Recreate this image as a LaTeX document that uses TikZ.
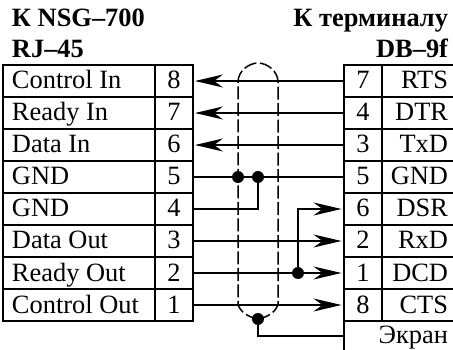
\documentclass[tikz,border=0pt]{standalone}
\usepackage{fontspec}
\setmainfont{Liberation Serif}
\usetikzlibrary{arrows.meta}
\tikzset{
  x=1pt,y=-1pt,
  cell/.style={draw=black,line width=2.2pt,inner sep=0pt,outer sep=0pt,minimum height=32pt},
  namecell/.style={cell,minimum width=152pt},
  pincell/.style={cell,minimum width=38pt},
  txt/.style={font=\fontsize{26.4}{28}\selectfont,inner sep=0pt,outer sep=0pt},
  hdr/.style={font=\fontsize{26.4}{28}\selectfont\bfseries,inner sep=0pt,outer sep=0pt,anchor=base west},
  hdrr/.style={hdr,anchor=base east},
  bord/.style={line width=2.2pt},
  wire/.style={line width=1.5pt},
  arr/.style={wire,-{Stealth[length=28pt,width=13pt,inset=9pt]}},
  arrin/.style={arr,shorten >=2pt},
  arrout/.style={arr,shorten >=2.5pt},
  dot/.style={circle,fill=black,inner sep=0pt,outer sep=0pt,minimum size=12pt},
  shield/.style={line width=1.5pt,dash pattern=on 13pt off 3.5pt},
}
\begin{document}
\begin{tikzpicture}
\useasboundingbox (0,0) rectangle (453,350);
\fill[white] (0,0) rectangle (453,350);
% headers
\node[hdr] (h1) at (12,27) {К NSG–700};
\node[hdr] (h2) at (12,58) {RJ–45};
\node[hdrr] (h3) at (448,27) {К терминалу};
\node[hdrr] (h4) at (448,58) {DB–9f};
% left table
\foreach \n/\p/\t [count=\i from 0] in {Control In/8/l8,Ready In/7/l7,Data In/6/l6,GND/5/l5,GND/4/l4,Data Out/3/l3,Ready Out/2/l2,Control Out/1/l1}{
  \pgfmathsetmacro\yc{81+32*\i}
  \pgfmathsetmacro\yb{89+32*\i}
  \node[namecell] (n\t) at (79,\yc) {};
  \node[pincell] (\t) at (174,\yc) {};
  \node[txt,anchor=base west] (tn\t) at (12,\yb) {\n};
  \node[txt,anchor=base] (tp\t) at (174,\yb) {\p};
}
% right table
\foreach \p/\n/\t [count=\i from 0] in {7/RTS/r7,4/DTR/r4,3/TxD/r3,5/GND/r5,6/DSR/r6,2/RxD/r2,1/DCD/r1,8/CTS/r8}{
  \pgfmathsetmacro\yc{81+32*\i}
  \pgfmathsetmacro\yb{89+32*\i}
  \node[pincell] (\t) at (363,\yc) {};
  \node[txt,anchor=base] (tp\t) at (363,\yb) {\p};
  \node[txt,anchor=base east] (tn\t) at (448,\yb) {\n};
  \draw[bord] (r7.north east |- \t.north) -- (453,{\yc-16});
  \draw[bord] (r7.north east |- \t.south) -- (453,{\yc+16});
}
\coordinate (scr) at (344,336);
\node[txt,anchor=base east] (ekr) at (448,343) {Экран};
\draw[bord] (r8.south west) -- (344,350);
% junctions
\node[dot] (j1) at (238,177) {};
\node[dot] (j2) at (258,177) {};
\node[dot] (j3) at (298,273) {};
\node[dot] (j4) at (258,319) {};
\coordinate (c4) at (258,209);
\coordinate (c6) at (298,209);
\coordinate (c0) at (258,336);
% shield
\coordinate (tl) at (238,82);
\coordinate (tr) at (278,82);
\draw[shield] (j4.center) .. controls (248,317) and (240,312) .. (238,304) -- (tl) .. controls (238,71) and (249,63) .. (258,63) .. controls (267,63) and (278,71) .. (tr) -- (278,304) .. controls (276,312) and (268,317) .. (j4.center);
% wires
\draw[arrin] (r7) -- (l8);
\draw[arrin] (r4) -- (l7);
\draw[arrin] (r3) -- (l6);
\draw[wire] (l5) -- (r5);
\draw[wire] (l4) -- (c4) -- (j2);
\draw[arrout] (l3) -- (r2);
\draw[arrout] (l2) -- (r1);
\draw[arrout] (l1) -- (r8);
\draw[arrout] (j3) -- (c6) -- (r6);
\draw[wire] (j4) -- (c0) -- (scr);
\end{tikzpicture}
\end{document}
